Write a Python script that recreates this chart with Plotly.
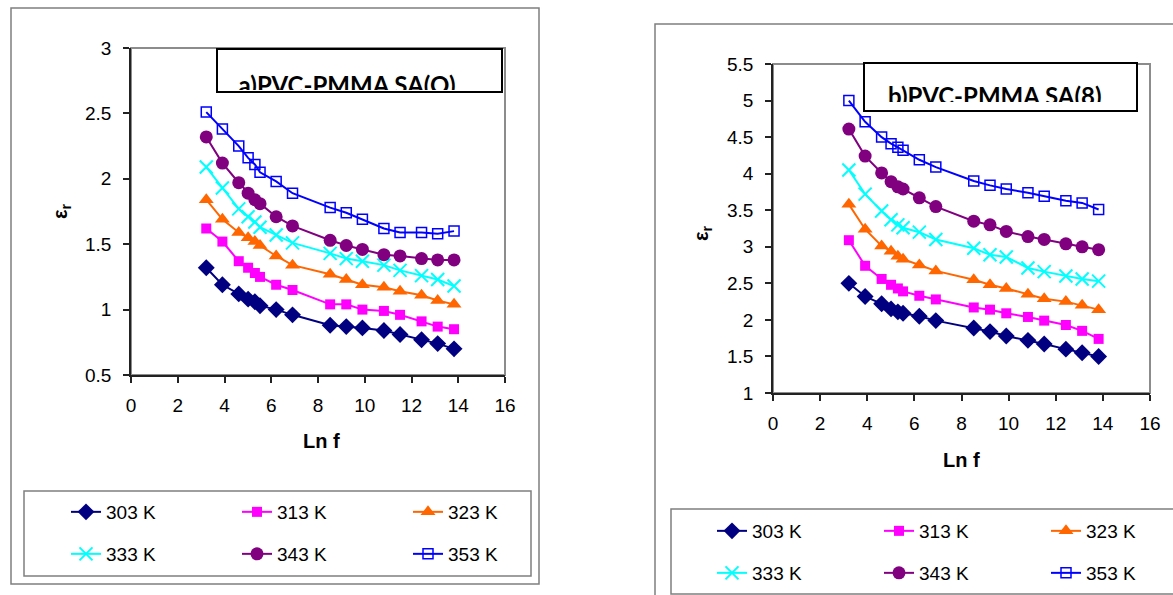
import plotly.graph_objects as go

W, H = 1173, 595

# ---------------- data ----------------
lnf = [3.22, 3.91, 4.61, 5.01, 5.30, 5.52, 6.21, 6.91, 8.52, 9.21, 9.90, 10.82, 11.51, 12.43, 13.12, 13.82]
temps = ["303 K", "313 K", "323 K", "333 K", "343 K", "353 K"]

a303 = [1.32, 1.19, 1.12, 1.08, 1.06, 1.03, 1.00, 0.96, 0.88, 0.87, 0.86, 0.84, 0.81, 0.77, 0.74, 0.70]
a313 = [1.62, 1.52, 1.37, 1.32, 1.28, 1.25, 1.19, 1.15, 1.04, 1.04, 1.00, 0.99, 0.96, 0.91, 0.87, 0.85]
a323 = [1.84, 1.69, 1.59, 1.55, 1.52, 1.49, 1.41, 1.34, 1.27, 1.23, 1.19, 1.17, 1.14, 1.11, 1.07, 1.04]
a333 = [2.09, 1.93, 1.77, 1.71, 1.67, 1.63, 1.57, 1.51, 1.43, 1.39, 1.37, 1.34, 1.30, 1.26, 1.23, 1.18]
a343 = [2.32, 2.12, 1.97, 1.89, 1.84, 1.81, 1.71, 1.64, 1.53, 1.49, 1.46, 1.42, 1.41, 1.39, 1.38, 1.38]
a353 = [2.51, 2.38, 2.25, 2.16, 2.11, 2.05, 1.98, 1.89, 1.78, 1.74, 1.69, 1.62, 1.59, 1.59, 1.58, 1.60]

b303 = [2.50, 2.32, 2.22, 2.15, 2.11, 2.09, 2.05, 1.99, 1.89, 1.84, 1.78, 1.72, 1.67, 1.60, 1.55, 1.50]
b313 = [3.09, 2.74, 2.56, 2.48, 2.43, 2.39, 2.33, 2.28, 2.17, 2.14, 2.09, 2.04, 1.99, 1.93, 1.85, 1.74]
b323 = [3.58, 3.24, 3.01, 2.94, 2.87, 2.83, 2.75, 2.67, 2.55, 2.48, 2.43, 2.35, 2.29, 2.25, 2.20, 2.14]
b333 = [4.05, 3.72, 3.49, 3.37, 3.30, 3.26, 3.20, 3.10, 2.98, 2.89, 2.86, 2.71, 2.66, 2.60, 2.56, 2.53]
b343 = [4.61, 4.24, 4.01, 3.89, 3.82, 3.79, 3.67, 3.55, 3.35, 3.30, 3.21, 3.14, 3.10, 3.04, 3.00, 2.96]
b353 = [5.00, 4.71, 4.50, 4.41, 4.36, 4.32, 4.19, 4.09, 3.90, 3.84, 3.79, 3.74, 3.69, 3.63, 3.60, 3.51]

titles = ["a)PVC-PMMA SA(O)", "b)PVC-PMMA SA(8)"]
x_ticks = [0, 2, 4, 6, 8, 10, 12, 14, 16]
a_yticks = [0.5, 1, 1.5, 2, 2.5, 3]
b_yticks = [1, 1.5, 2, 2.5, 3, 3.5, 4, 4.5, 5, 5.5]

# ---------------- styles ----------------
colors = ["#000080", "#FF00FF", "#FF6600", "#00FFFF", "#800080", "#0000FF"]
symbols = ["diamond", "square", "triangle-up", "x-thin-open", "circle", "square-open"]
msizes = [13, 10, 13, 13, 13, 10]
mlines = [0, 0, 0, 2, 0, 1.5]


def px(x):
    return x / W


def py(y):
    return 1 - y / H


fig = go.Figure()

left_series = [a303, a313, a323, a333, a343, a353]
right_series = [b303, b313, b323, b333, b343, b353]

for panel, series, (xa, ya), legs in [
    ("a", left_series, ("x", "y"), ("legend", "legend2")),
    ("b", right_series, ("x2", "y2"), ("legend3", "legend4")),
]:
    for i, vals in enumerate(series):
        fig.add_trace(go.Scatter(
            x=lnf, y=vals, mode="lines+markers", name=temps[i],
            xaxis=xa, yaxis=ya,
            legend=legs[0] if i < 3 else legs[1],
            line=dict(color=colors[i], width=2),
            marker=dict(symbol=symbols[i], size=msizes[i], color=colors[i],
                        line=dict(color=colors[i], width=mlines[i])),
            cliponaxis=False,
        ))

# clipped title text (text box is cut off at the bottom like the original)
fig.add_trace(go.Scatter(x=[0.456], y=[0.34], mode="text", text=[f"<b>{titles[0]}</b>"],
                         textposition="bottom center", xaxis="x3", yaxis="y3",
                         textfont=dict(family="Lato", size=24, color="black"),
                         cliponaxis=True, showlegend=False, hoverinfo="skip"))
fig.add_trace(go.Scatter(x=[0.479], y=[0.40], mode="text", text=[f"<b>{titles[1]}</b>"],
                         textposition="bottom center", xaxis="x4", yaxis="y4",
                         textfont=dict(family="Lato", size=24, color="black"),
                         cliponaxis=True, showlegend=False, hoverinfo="skip"))

tickfont = dict(family="Liberation Sans, Arial", size=19, color="black")
axis_common = dict(showgrid=False, zeroline=False, showline=True, linecolor="#222",
                   linewidth=1.5, ticks="outside", ticklen=6, tickwidth=1.5,
                   tickcolor="#222", tickfont=tickfont, fixedrange=True)

fig.update_layout(
    width=W, height=H,
    margin=dict(l=0, r=0, t=0, b=0, autoexpand=False),
    paper_bgcolor="white", plot_bgcolor="white",
    font=dict(family="Liberation Sans, Arial", color="black"),
    xaxis=dict(domain=[px(131), px(505)], range=[0, 16], tickvals=x_ticks,
               anchor="y", ticklabelstandoff=6, **axis_common),
    yaxis=dict(domain=[py(375), py(48)], range=[0.5, 3], tickvals=a_yticks,
               anchor="x", ticklabelstandoff=8, **axis_common),
    xaxis2=dict(domain=[px(773), px(1150)], range=[0, 16], tickvals=x_ticks,
                anchor="y2", ticklabelstandoff=6, **axis_common),
    yaxis2=dict(domain=[py(393), py(64)], range=[1, 5.5], tickvals=b_yticks,
                anchor="x2", ticklabelstandoff=8, **axis_common),
    xaxis3=dict(domain=[px(218), px(501)], range=[0, 1], visible=False, anchor="y3"),
    yaxis3=dict(domain=[py(90), py(50)], range=[0, 1], visible=False, anchor="x3"),
    xaxis4=dict(domain=[px(865), px(1136)], range=[0, 1], visible=False, anchor="y4"),
    yaxis4=dict(domain=[py(102), py(64)], range=[0, 1], visible=False, anchor="x4"),
    showlegend=True,
)

leg_common = dict(orientation="h", bgcolor="rgba(0,0,0,0)", borderwidth=0,
                  font=dict(family="Liberation Sans, Arial", size=19, color="black"),
                  xanchor="left", yanchor="middle", entrywidthmode="pixels",
                  itemclick=False, itemdoubleclick=False)
fig.update_layout(
    legend=dict(x=px(66), y=py(512), entrywidth=126, **leg_common),
    legend2=dict(x=px(66), y=py(554), entrywidth=126, **leg_common),
    legend3=dict(x=px(712), y=py(531), entrywidth=122, **leg_common),
    legend4=dict(x=px(712), y=py(573), entrywidth=122, **leg_common),
)

shapes = []
# outer chart frames
shapes.append(dict(type="rect", xref="paper", yref="paper", x0=px(11), x1=px(539), y0=py(8), y1=py(584),
                   line=dict(color="#7f7f7f", width=1.5), layer="below"))
shapes.append(dict(type="rect", xref="paper", yref="paper", x0=px(655), x1=px(1185), y0=py(24), y1=py(605),
                   line=dict(color="#7f7f7f", width=1.5), layer="below"))
# legend frames
shapes.append(dict(type="rect", xref="paper", yref="paper", x0=px(24), x1=px(531), y0=py(491), y1=py(576),
                   line=dict(color="#7f7f7f", width=1.5), layer="below"))
shapes.append(dict(type="rect", xref="paper", yref="paper", x0=px(671), x1=px(1185), y0=py(509), y1=py(594),
                   line=dict(color="#7f7f7f", width=1.5), layer="below"))
# plot area borders (gray)
shapes.append(dict(type="rect", xref="paper", yref="paper", x0=px(131), x1=px(505), y0=py(375), y1=py(48),
                   line=dict(color="#8c8c8c", width=2), layer="below"))
shapes.append(dict(type="rect", xref="paper", yref="paper", x0=px(773), x1=px(1150), y0=py(393), y1=py(64),
                   line=dict(color="#8c8c8c", width=2), layer="below"))
# title boxes
shapes.append(dict(type="rect", xref="paper", yref="paper", x0=px(217), x1=px(502), y0=py(92), y1=py(49),
                   line=dict(color="black", width=2), fillcolor="white", layer="below"))
shapes.append(dict(type="rect", xref="paper", yref="paper", x0=px(864), x1=px(1137), y0=py(111), y1=py(63),
                   line=dict(color="black", width=2), fillcolor="white", layer="below"))
fig.update_layout(shapes=shapes)

afont = dict(family="Liberation Sans, Arial", size=20, color="black")
fig.update_layout(annotations=[
    dict(text="<b>Ln f</b>", xref="paper", yref="paper", x=px(321), y=py(441),
         showarrow=False, font=afont, xanchor="center", yanchor="middle"),
    dict(text="<b>Ln f</b>", xref="paper", yref="paper", x=px(961), y=py(460),
         showarrow=False, font=afont, xanchor="center", yanchor="middle"),
    dict(text="<b>ε<sub>r</sub></b>", xref="paper", yref="paper", x=px(61), y=py(211),
         showarrow=False, font=afont, textangle=-90, xanchor="center", yanchor="middle"),
    dict(text="<b>ε<sub>r</sub></b>", xref="paper", yref="paper", x=px(703), y=py(233),
         showarrow=False, font=afont, textangle=-90, xanchor="center", yanchor="middle"),
])

fig.write_html("out.html")
